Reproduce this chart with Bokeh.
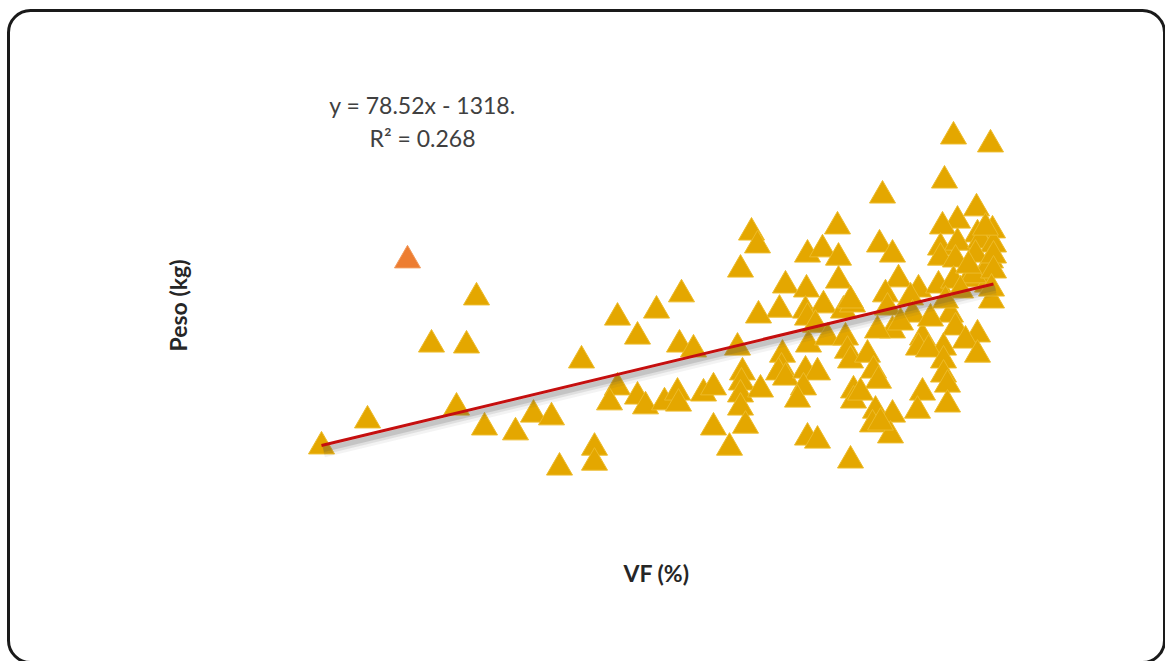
from math import pi

from bokeh.embed import file_html
from bokeh.models import BoxAnnotation, ColumnDataSource, Label, Range1d
from bokeh.plotting import figure
from bokeh.resources import INLINE

# ---- data -------------------------------------------------------------
vf = [
    17.360, 17.406, 17.515, 17.470, 17.505, 17.495, 17.523, 17.554, 17.572, 17.590,
    17.620, 17.656, 17.676, 17.633, 17.633, 17.598, 17.656, 17.648, 17.676, 17.684,
    17.703, 17.716, 17.717, 17.742, 17.720, 17.695, 17.718, 17.732, 17.752, 17.790,
    17.796, 17.779, 17.876, 17.846, 17.861, 17.877, 17.824, 17.845, 17.877, 17.818,
    17.844, 17.862, 17.882, 17.891, 17.846, 17.854, 17.797, 17.776, 17.847, 17.866,
    17.884, 17.886, 17.889, 17.821, 17.820, 17.817, 17.824, 17.844, 17.856, 17.842,
    17.836, 17.781, 17.780, 17.779, 17.799, 17.779, 17.784, 17.752, 17.768, 17.846,
    17.856, 17.889, 17.892, 17.892, 17.992, 18.029, 17.983, 17.921, 18.015, 17.996,
    17.981, 18.031, 18.016, 17.979, 17.996, 18.019, 18.032, 17.918, 17.931, 17.979,
    17.994, 18.029, 18.014, 18.026, 17.937, 17.957, 17.977, 17.992, 18.007, 18.026,
    18.030, 17.924, 17.889, 17.949, 18.012, 17.926, 17.989, 17.994, 18.016, 18.004,
    17.982, 17.961, 17.957, 17.967, 17.931, 17.916, 17.906, 18.016, 17.982, 17.982,
    17.986, 17.912, 17.917, 17.899, 17.961, 17.956, 17.986, 17.914, 17.931, 17.911,
    17.929, 17.919, 17.951, 17.969, 17.939, 18.024, 18.032, 18.007, 18.032, 18.030,
    17.999, 17.984,
]
peso = [
    44.8, 53.3, 93.5, 78.1, 77.8, 57.5, 51.0, 49.4, 55.2, 54.3,
    72.9, 86.9, 80.7, 44.4, 39.5, 37.9, 64.1, 59.2, 61.1, 57.9,
    59.2, 62.4, 58.8, 62.1, 94.5, 89.2, 78.1, 76.5, 51.0, 114.7,
    110.5, 102.6, 116.7, 107.5, 109.2, 106.5, 97.4, 96.1, 99.0, 89.5,
    89.2, 90.9, 89.2, 91.2, 86.9, 84.6, 87.6, 77.1, 78.1, 80.4,
    80.4, 76.1, 72.9, 74.8, 70.6, 69.0, 67.3, 69.6, 69.0, 64.1,
    60.1, 69.0, 65.7, 61.8, 63.4, 57.5, 51.6, 64.1, 44.4, 47.7,
    46.7, 40.2, 63.1, 59.8, 146.1, 143.5, 131.7, 126.8, 122.6, 118.6,
    116.7, 115.4, 114.1, 109.8, 111.4, 112.1, 110.8, 110.8, 107.5, 106.5,
    105.9, 105.6, 107.5, 103.3, 99.4, 96.1, 97.4, 99.0, 99.4, 97.7,
    92.5, 94.5, 92.5, 93.5, 100.7, 90.2, 87.9, 83.7, 81.4, 79.4,
    77.1, 80.4, 77.1, 76.5, 82.7, 82.7, 74.8, 74.8, 72.9, 68.3,
    65.0, 69.6, 66.3, 62.4, 62.4, 56.5, 58.5, 56.5, 55.2, 52.0,
    48.4, 52.6, 87.9, 86.6, 85.3, 116.3, 107.2, 103.9, 102.3, 96.4,
    95.8, 92.5,
]

# highlighted observation
vf_highlight = [17.446]
peso_highlight = [105.6]

# linear trend printed on the chart
slope = 78.52
intercept = -1318.0
r_squared = 0.268

# ---- layout ---------------------------------------------------------------
W, H = 1165, 661
PX_X = 0.001      # VF units per pixel
PX_Y = 0.3268     # kg per pixel
X_LEFT = 17.039
Y_TOP = 190.53


def sx(px):
    return X_LEFT + px * PX_X


def sy(py):
    return Y_TOP - py * PX_Y


p = figure(
    width=W, height=H,
    x_range=Range1d(X_LEFT, X_LEFT + W * PX_X),
    y_range=Range1d(Y_TOP - H * PX_Y, Y_TOP),
    x_axis_location=None, y_axis_location=None,
    output_backend="svg", toolbar_location=None,
    min_border=0, outline_line_color=None,
    background_fill_color="white", border_fill_color="white",
)
p.grid.grid_line_color = None

# rounded chart-area frame
p.add_layout(BoxAnnotation(
    left=sx(8), right=sx(1164), top=sy(10), bottom=sy(662),
    fill_color=None, line_color="#1a1a1a", line_alpha=1.0, line_width=3,
    border_radius=22,
))

src = ColumnDataSource(data=dict(vf=vf, peso=peso))
p.scatter("vf", "peso", source=src, marker="triangle", size=26,
          fill_color="#E4A700", line_color="#EDBB2A", line_width=1)
p.scatter(vf_highlight, peso_highlight, marker="triangle", size=26,
          fill_color="#ED7D31", line_color="#F29A5C", line_width=1)

# trendline with a soft drop shadow
x_fit = [min(vf + vf_highlight), max(vf + vf_highlight)]
y_fit = [slope * x + intercept for x in x_fit]
for off, w, a in [(6, 12, 0.07), (5, 8, 0.12), (4, 5, 0.18)]:
    p.line([x + 2 * PX_X for x in x_fit], [y - off * PX_Y for y in y_fit],
           line_color="#505050", line_width=w, line_alpha=a)
p.line(x_fit, y_fit, line_color="#C50F0F", line_width=3)

# texts
p.add_layout(Label(x=422, y=H - 104, x_units="screen", y_units="screen",
                   text=f"y = {slope}x - {abs(intercept):.0f}.",
                   text_align="center", text_baseline="middle",
                   text_font="Lato", text_font_size="23px", text_color="#404040"))
p.add_layout(Label(x=422, y=H - 137, x_units="screen", y_units="screen",
                   text=f"R² = {r_squared}",
                   text_align="center", text_baseline="middle",
                   text_font="Lato", text_font_size="23px", text_color="#404040"))
p.add_layout(Label(x=177, y=H - 305, x_units="screen", y_units="screen",
                   text="Peso (kg)", angle=pi / 2,
                   text_align="center", text_baseline="middle",
                   text_font="Lato", text_font_style="bold",
                   text_font_size="23px", text_color="#262626"))
p.add_layout(Label(x=656, y=H - 572, x_units="screen", y_units="screen",
                   text="VF (%)",
                   text_align="center", text_baseline="middle",
                   text_font="Lato", text_font_style="bold",
                   text_font_size="23px", text_color="#262626"))

open("out.html", "w").write(file_html(p, INLINE))
